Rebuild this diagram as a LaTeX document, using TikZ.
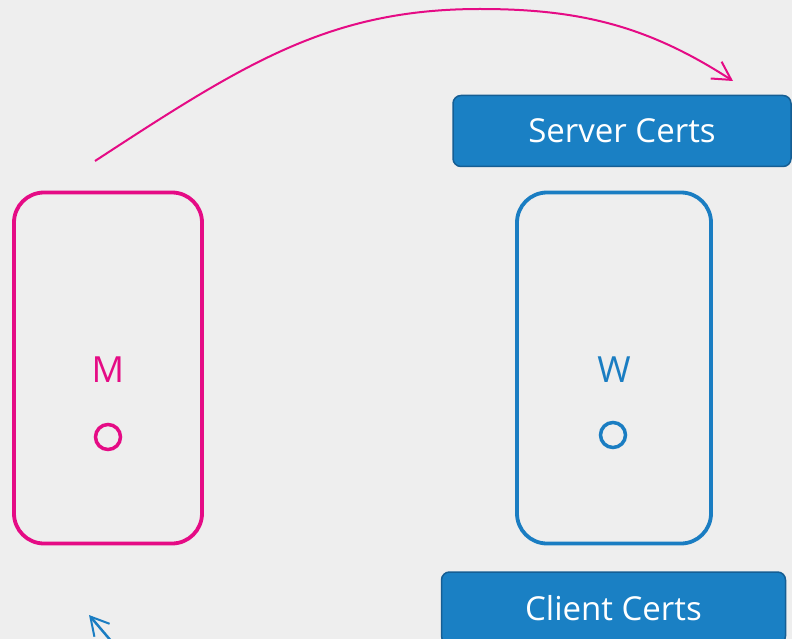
\documentclass[tikz,border=0pt]{standalone}
\usepackage{fontspec}
\setmainfont{Open Sans}
\usetikzlibrary{arrows.meta}
\definecolor{bgc}{HTML}{EEEEEE}
\definecolor{pinkc}{HTML}{E50B85}
\definecolor{bluec}{HTML}{1A7DC2}
\definecolor{boxfill}{HTML}{1A80C4}
\definecolor{boxedge}{HTML}{155E94}
\tikzset{
  hostbox/.style={draw, line width=3.8pt, rounded corners=30pt, minimum height=351pt, inner sep=0pt},
  hostlabel/.style={font=\fontsize{36}{40}\selectfont, inner sep=0pt},
  port/.style={circle, draw, line width=3.5pt, minimum size=25pt, inner sep=0pt},
  certbox/.style={draw=boxedge, fill=boxfill, line width=1.5pt, rounded corners=8pt, text=white, font=\fontsize{33}{40}\selectfont, inner sep=0pt},
  flow/.style={line width=2pt, -{Straight Barb[length=18pt,width=20pt,line width=2pt]}}
}
\begin{document}
\begin{tikzpicture}[x=1pt,y=-1pt]
\fill[bgc] (0,0) rectangle (792,639);
\useasboundingbox (0,0) rectangle (792,639);
% Master
\node[hostbox, draw=pinkc, minimum width=188pt] (mbox) at (108,368) {};
\node[hostlabel, text=pinkc] (mlab) at (108,370) {M};
\node[port, draw=pinkc] (mport) at (108,437) {};
% Worker
\node[hostbox, draw=bluec, minimum width=194pt] (wbox) at (614,368) {};
\node[hostlabel, text=bluec] (wlab) at (614,370) {W};
\node[port, draw=bluec] (wport) at (613,435) {};
% cert boxes
\node[certbox, minimum width=338pt, minimum height=71pt] (server) at (622,131) {Server Certs};
\node[certbox, minimum width=344pt, minimum height=72pt] (client) at (613.5,608) {Client Certs};
% arrows
\coordinate (cs) at (95,161);
\coordinate (cpeak) at (480,9);
\coordinate (ce) at (733,81);
\draw[flow, draw=pinkc] (cs) .. controls (245,63) and (330,9) .. (cpeak) .. controls (580,9) and (648,26) .. (ce);
\coordinate (bs) at (112,642);
\coordinate (be) at (89,615);
\draw[flow, draw=bluec, line width=2.5pt] (bs) -- (be);
\end{tikzpicture}
\end{document}
